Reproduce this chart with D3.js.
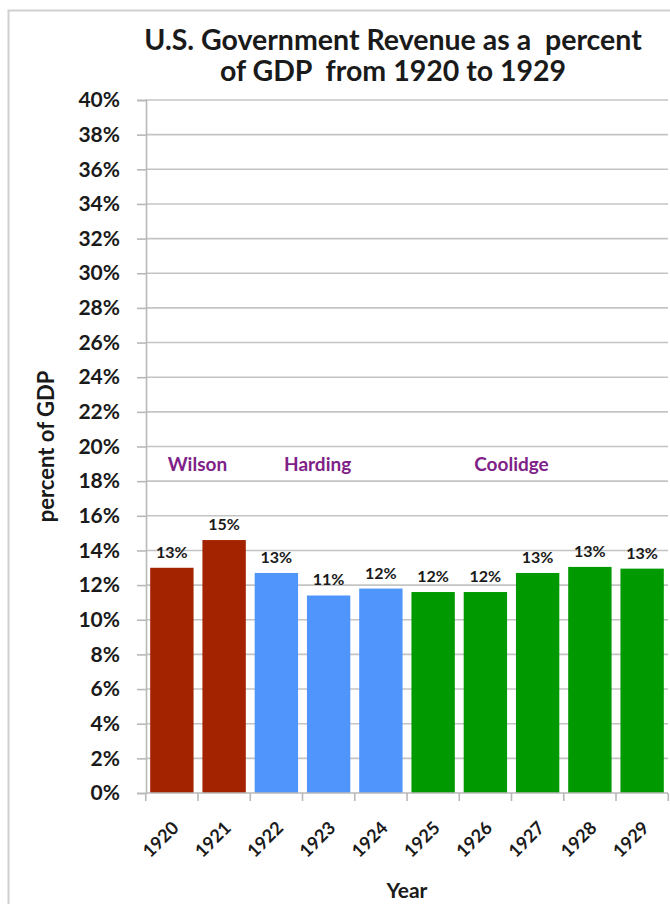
<!DOCTYPE html>
<html>
<head>
<meta charset="utf-8">
<script src="https://cdn.jsdelivr.net/npm/d3@7"></script>
<style>
  body { margin: 0; background: #fff; }
  text { font-family: Lato, "Open Sans", sans-serif; font-variant-numeric: lining-nums; }
</style>
</head>
<body>
<div id="chart"></div>
<script>
var years = ["1920","1921","1922","1923","1924","1925","1926","1927","1928","1929"];
var revenue = [13.0, 14.6, 12.7, 11.4, 11.8, 11.6, 11.6, 12.7, 13.05, 12.95];
var valueLabels = ["13%","15%","13%","11%","12%","12%","12%","13%","13%","13%"];
var presidentOf = ["Wilson","Wilson","Harding","Harding","Harding","Coolidge","Coolidge","Coolidge","Coolidge","Coolidge"];
var presidents = ["Wilson","Harding","Coolidge"];
var presColors = ["#a32200","#4f95fc","#009900"];
var yTicks = d3.range(0, 41, 2);

var w = 670, h = 904;
var padLeft = 146, padRight = 668, padTop = 100, padBottom = 793;

var svg = d3.select("#chart").append("svg")
    .attr("width", w)
    .attr("height", h);

// frame around chart
svg.append("rect")
    .attr("x", 8.5).attr("y", 10.5)
    .attr("width", w + 10).attr("height", h + 10)
    .attr("fill", "none")
    .attr("stroke", "#d0d0d0")
    .attr("stroke-width", 2);

var x = d3.scaleBand().domain(years).range([padLeft, padRight]).paddingInner(0.17).paddingOuter(0.08);
var y = d3.scaleLinear().domain([0, 40]).range([padBottom, padTop]);
var color = d3.scaleOrdinal().domain(presidents).range(presColors);

// gridlines
svg.append("g").selectAll("line")
    .data(yTicks.filter(d => d > 0))
    .enter().append("line")
    .attr("x1", padLeft).attr("x2", padRight)
    .attr("y1", d => y(d)).attr("y2", d => y(d))
    .attr("stroke", "#c4c4c4")
    .attr("stroke-width", 1.6);

// y axis
var yAxis = svg.append("g")
    .attr("transform", "translate(" + padLeft + ",0)")
    .call(d3.axisLeft(y).tickValues(yTicks).tickFormat(d => d + "%").tickSize(9).tickPadding(17));
yAxis.select(".domain").attr("stroke", "#b8b8b8").attr("stroke-width", 1.6);
yAxis.selectAll(".tick line").attr("stroke", "#b8b8b8").attr("stroke-width", 1.6);
yAxis.selectAll("text")
    .attr("font-size", "21px").attr("font-weight", "bold").attr("fill", "#1a1a1a")
    .attr("font-family", null);

// bars
svg.append("g").selectAll("rect")
    .data(years)
    .enter().append("rect")
    .attr("x", d => x(d))
    .attr("width", x.bandwidth())
    .attr("y", (d, i) => y(revenue[i]))
    .attr("height", (d, i) => y(0) - y(revenue[i]))
    .attr("fill", (d, i) => color(presidentOf[i]));

// x axis
var xStep = x.step();
var x0 = x(years[0]) - xStep * x.paddingInner() / 2;
var xAxis = svg.append("g").attr("transform", "translate(0," + padBottom + ")");
xAxis.append("line")
    .attr("x1", padLeft).attr("x2", padRight)
    .attr("stroke", "#b8b8b8").attr("stroke-width", 1.6);
xAxis.selectAll(".xt")
    .data(d3.range(years.length + 1))
    .enter().append("line")
    .attr("class", "xt")
    .attr("x1", i => x0 + i * xStep)
    .attr("x2", i => x0 + i * xStep)
    .attr("y1", 0).attr("y2", 8)
    .attr("stroke", "#b8b8b8").attr("stroke-width", 1.6);
xAxis.selectAll(".xl")
    .data(years)
    .enter().append("text")
    .attr("class", "xl")
    .attr("text-anchor", "end")
    .attr("font-size", "18px").attr("font-weight", "bold").attr("fill", "#1a1a1a")
    .attr("transform", d => "translate(" + (x(d) + x.bandwidth() / 2 + 8) + ",36) rotate(-45)")
    .text(d => d);

// value labels
svg.append("g").selectAll("text")
    .data(years)
    .enter().append("text")
    .attr("x", d => x(d) + x.bandwidth() / 2)
    .attr("y", (d, i) => y(revenue[i]) - 10)
    .attr("text-anchor", "middle")
    .attr("font-size", "16px").attr("font-weight", "bold").attr("fill", "#1a1a1a")
    .text((d, i) => valueLabels[i]);

// president labels (positioned over their group of bars)
var presAnchor = [
    x(years[0]) + xStep,                       // Wilson: between 1920 and 1921
    x(years[3]) + x.bandwidth() / 2 - 11,      // Harding: near 1923
    x0 + 7 * xStep                             // Coolidge: between 1926 and 1927
];
svg.append("g").selectAll("text")
    .data(presidents)
    .enter().append("text")
    .attr("x", (d, i) => presAnchor[i] - (i == 0 ? 5 : 0))
    .attr("y", y(19) + 7)
    .attr("text-anchor", "middle")
    .attr("font-size", "19px").attr("font-weight", "bold").attr("fill", "#7e2288")
    .text(d => d);

// title
var title = svg.append("text")
    .attr("text-anchor", "middle")
    .attr("font-size", "28.5px").attr("font-weight", "bold").attr("fill", "#1a1a1a");
title.append("tspan").attr("x", 393).attr("y", 50).text("U.S. Government Revenue as a \u00a0percent");
title.append("tspan").attr("x", 393).attr("y", 81).text("of GDP \u00a0from 1920 to 1929");

// axis titles
svg.append("text")
    .attr("transform", "translate(54," + ((padTop + padBottom) / 2) + ") rotate(-90)")
    .attr("text-anchor", "middle")
    .attr("font-size", "22px").attr("font-weight", "bold").attr("fill", "#1a1a1a")
    .text("percent of GDP");

svg.append("text")
    .attr("x", (padLeft + padRight) / 2).attr("y", 898)
    .attr("text-anchor", "middle")
    .attr("font-size", "21px").attr("font-weight", "bold").attr("fill", "#1a1a1a")
    .text("Year");
</script>
</body>
</html>
